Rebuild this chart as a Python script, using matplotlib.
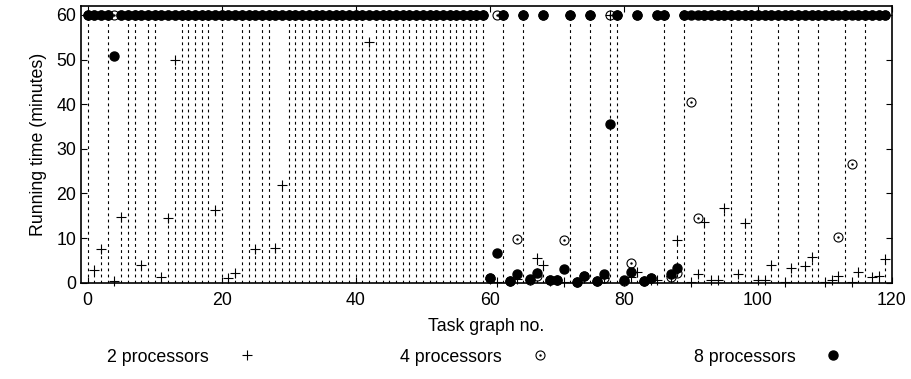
import matplotlib
matplotlib.use("Agg")
import matplotlib.pyplot as plt
from matplotlib.lines import Line2D

plt.rcParams['font.family'] = ['Liberation Sans', 'DejaVu Sans']
plt.rcParams['font.size'] = 12.8

# running time (minutes) per task graph, 60 = timed out
graph_no = list(range(120))

p2 = [60, 2.8, 7.5, 60, 0.4, 14.8, 60, 60, 4.0, 60,
      60, 1.3, 14.6, 49.9, 60, 60, 60, 60, 60, 16.3,
      60, 1.0, 2.1, 60, 60, 7.5, 60, 60, 7.7, 22.0,
      60, 60, 60, 60, 60, 60, 60, 60, 60, 60,
      60, 60, 53.9, 60, 60, 60, 60, 60, 60, 60,
      60, 60, 60, 60, 60, 60, 60, 60, 60, 60,
      0.8, 0.1, 60, 0.3, 0.9, 60, 0.5, 5.6, 4.0, 0.4,
      0.5, 0.1, 60, 0.1, 1.0, 60, 0.3, 1.0, 60, 60,
      0.3, 1.3, 2.5, 0.3, 0.5, 0.6, 60, 1.5, 9.6, 60,
      0.15, 1.9, 13.5, 0.7, 0.7, 16.7, 60, 1.9, 13.3, 60,
      0.7, 0.7, 4.0, 60, 0.15, 3.4, 60, 3.8, 5.7, 60,
      0.2, 0.6, 1.6, 60, 0.2, 2.5, 60, 1.3, 1.6, 5.2]

p4 = [60] * 60 + [
      1.0, 60, 60, 0.4, 9.7, 60, 0.7, 1.4, 60, 0.6,
      0.5, 9.6, 60, 0.2, 1.4, 60, 0.4, 1.1, 60, 60,
      0.4, 4.5, 60, 0.4, 1.0, 60, 60, 1.3, 2.2, 60,
      40.4, 14.5, 60, 60, 60, 60, 60, 60, 60, 60,
      60, 60, 60, 60, 60, 60, 60, 60, 60, 60,
      60, 60, 10.2, 60, 26.6, 60, 60, 60, 60, 60]

p8 = [60, 60, 60, 60, 50.7] + [60] * 55 + [
      1.1, 6.6, 60, 0.45, 1.9, 60, 0.8, 2.2, 60, 0.7,
      0.6, 3.0, 60, 0.2, 1.5, 60, 0.45, 1.95, 35.6, 60,
      0.5, 2.3, 60, 0.45, 1.1, 60, 60, 1.95, 3.2, 60] + [60] * 30

fig = plt.figure(figsize=(9.11, 3.79), dpi=100)
ax = fig.add_axes([0.0889, 0.2541, 0.8902, 0.730])

# impulses for the 2 processor runs
ax.vlines(graph_no, 0, p2, colors='black', linewidth=0.8, linestyles=(0, (2.5, 3)))

ax.plot(graph_no, p2, linestyle='none', marker='+', markersize=7, markeredgewidth=0.8,
        color='black', clip_on=False)
ax.plot(graph_no, p4, linestyle='none', marker='o', markersize=6.5, markeredgewidth=0.8,
        markerfacecolor='none', color='black', clip_on=False)
ax.plot(graph_no, p4, linestyle='none', marker='.', markersize=1.5, color='black', clip_on=False)
ax.plot(graph_no, p8, linestyle='none', marker='o', markersize=6.5, color='black', clip_on=False)

ax.set_xlim(-1, 120)
ax.set_ylim(0, 62)
ax.set_xticks(range(0, 121, 20))
ax.set_yticks(range(0, 61, 10))
ax.tick_params(axis='x', pad=7)
ax.tick_params(direction='in', top=True, right=True, length=4.5, width=0.8)
for s in ax.spines.values():
    s.set_linewidth(1.2)

ax.set_xlabel('Task graph no.', labelpad=6)
ax.set_ylabel('Running time (minutes)', labelpad=7)

h2 = Line2D([], [], linestyle='none', marker='+', markersize=7, markeredgewidth=0.8, color='black')
h4a = Line2D([], [], linestyle='none', marker='o', markersize=6.5, markeredgewidth=0.8,
             markerfacecolor='none', color='black')
h4b = Line2D([], [], linestyle='none', marker='.', markersize=1.5, color='black')
h8 = Line2D([], [], linestyle='none', marker='o', markersize=6.5, color='black')
fig.legend([h2, (h4a, h4b), h8], ['2 processors', '4 processors', '8 processors'],
           ncol=3, frameon=False, markerfirst=False, loc='center',
           bbox_to_anchor=(0.526, 0.058), handlelength=2, handletextpad=1.13,
           columnspacing=7.65)

fig.savefig('out.png', dpi=100)
